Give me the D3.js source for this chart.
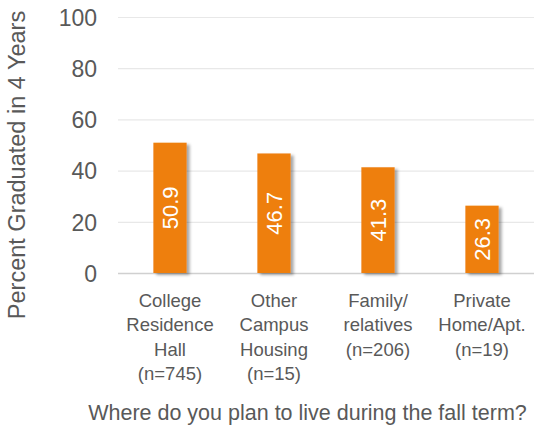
<!DOCTYPE html>
<html>
<head>
<meta charset="utf-8">
<script src="https://cdn.jsdelivr.net/npm/d3@7"></script>
<style>
  html, body { margin: 0; padding: 0; background: #fff; }
  svg { display: block; font-family: "Liberation Sans", Arial, sans-serif; }
</style>
</head>
<body>
<svg id="chart" width="535" height="430"></svg>
<script>
// Housing plans vs. four-year graduation rate
const categories = [
  ["College", "Residence", "Hall", "(n=745)"],
  ["Other", "Campus", "Housing", "(n=15)"],
  ["Family/", "relatives", "(n=206)"],
  ["Private", "Home/Apt.", "(n=19)"]
];
const values = [50.9, 46.7, 41.3, 26.3];
const yTicks = [0, 20, 40, 60, 80, 100];
const yTitle = "Percent Graduated in 4 Years";
const xTitle = "Where do you plan to live during the fall term?";

const svg = d3.select("#chart");
const plotLeft = 118, plotRight = 534, plotTop = 17, plotBottom = 273;

const x = d3.scaleBand()
  .domain(d3.range(categories.length))
  .range([plotLeft, plotRight])
  .paddingInner(0.68)
  .paddingOuter(0.34);

const y = d3.scaleLinear().domain([0, 100]).range([plotBottom, plotTop]);

// soft drop shadow under bars
const defs = svg.append("defs");
const f = defs.append("filter").attr("id", "shadow")
  .attr("x", "-30%").attr("y", "-10%").attr("width", "160%").attr("height", "130%");
f.append("feDropShadow")
  .attr("dx", 3).attr("dy", 2).attr("stdDeviation", 1.8)
  .attr("flood-color", "#000").attr("flood-opacity", 0.35);

// gridlines
svg.append("g")
  .selectAll("line")
  .data(yTicks)
  .join("line")
  .attr("x1", plotLeft).attr("x2", plotRight)
  .attr("y1", d => y(d) + 0.5).attr("y2", d => y(d) + 0.5)
  .attr("stroke", d => d === 0 ? "#d0d0d0" : "#e8e8e8")
  .attr("stroke-width", d => d === 0 ? 1.5 : 1.2);

// y axis tick labels
const yAxis = d3.axisLeft(y).tickValues(yTicks).tickSize(0).tickPadding(0);
const gy = svg.append("g").attr("transform", `translate(97,0)`).call(yAxis);
gy.select(".domain").remove();
gy.selectAll("text")
  .attr("fill", "#595959")
  .style("font-size", "23px")
  .style("font-family", "Liberation Sans, Arial, sans-serif")
  .attr("dy", "0.36em");

// bars
svg.append("g")
  .selectAll("rect")
  .data(values)
  .join("rect")
  .attr("x", (d, i) => x(i))
  .attr("width", x.bandwidth())
  .attr("y", d => y(d))
  .attr("height", d => y(0) - y(d))
  .attr("fill", "#EE7F0D")
  .attr("filter", "url(#shadow)");

// value labels, rotated inside bars
svg.append("g")
  .selectAll("text")
  .data(values)
  .join("text")
  .attr("transform", (d, i) =>
    `translate(${x(i) + x.bandwidth() / 2},${(y(d) + y(0)) / 2}) rotate(-90)`)
  .attr("text-anchor", "middle")
  .attr("dy", "0.36em")
  .attr("fill", "#fff")
  .style("font-size", "22px")
  .text(d => d.toFixed(1));

// category labels
const cat = svg.append("g")
  .selectAll("text")
  .data(categories)
  .join("text")
  .attr("x", (d, i) => x(i) + x.bandwidth() / 2)
  .attr("y", 307)
  .attr("text-anchor", "middle")
  .attr("fill", "#595959")
  .style("font-size", "18.5px");
cat.selectAll("tspan")
  .data(d => d)
  .join("tspan")
  .attr("x", function () { return this.parentNode.getAttribute("x"); })
  .attr("dy", (d, i) => i === 0 ? 0 : 24.3)
  .text(d => d);

// axis titles
svg.append("text")
  .attr("transform", "translate(25,165) rotate(-90)")
  .attr("text-anchor", "middle")
  .attr("fill", "#595959")
  .style("font-size", "23.5px")
  .text(yTitle);

svg.append("text")
  .attr("x", (88 + 527) / 2)
  .attr("y", 420)
  .attr("text-anchor", "middle")
  .attr("fill", "#595959")
  .style("font-size", "21.5px")
  .text(xTitle);
</script>
</body>
</html>
